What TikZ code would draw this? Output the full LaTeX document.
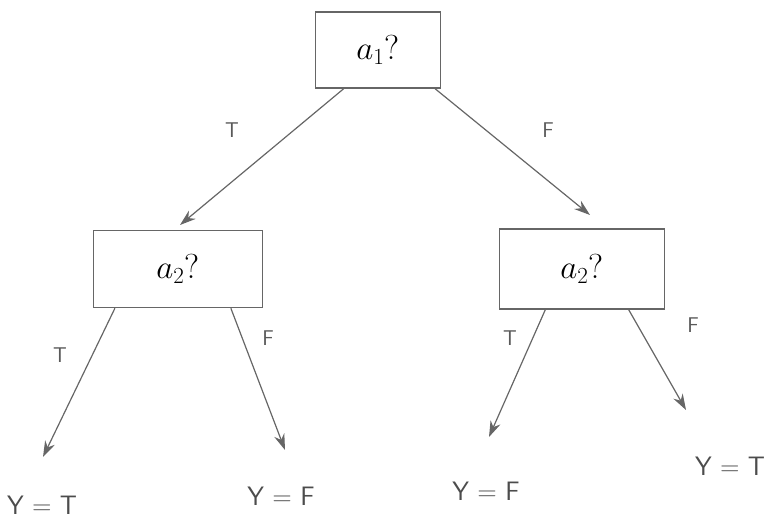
\documentclass[tikz,border=0pt]{standalone}
\usetikzlibrary{arrows.meta,calc}
\begin{document}
\begin{tikzpicture}[x=0.75pt,y=-0.75pt,
  pencil/.style={draw=black!60,line width=0.9pt},
  qbox/.style={pencil,rectangle,inner sep=0pt,font=\fontsize{26}{30}\selectfont},
  edge/.style={pencil,-{Stealth[length=12pt,width=8pt]}},
  elab/.style={text=black!65,font=\sffamily\fontsize{16}{18}\selectfont},
  leaf/.style={text=black!70,inner sep=0pt,font=\sffamily\fontsize{20}{24}\selectfont}]
\useasboundingbox (0,0) rectangle (774,531);
\node[qbox,minimum width=94pt,minimum height=57pt] (A) at (378,50) {$a_1$?};
\node[qbox,minimum width=127pt,minimum height=58pt] (L) at (178,269) {$a_2$?};
\node[qbox,minimum width=124pt,minimum height=60pt] (R) at (582,269) {$a_2$?};
\node[leaf] (LL) at (42,505) {Y = T};
\node[leaf] (LR) at (281,496) {Y = F};
\node[leaf] (RL) at (486,491) {Y = F};
\node[leaf] (RR) at (730,466) {Y = T};
\coordinate (eL) at (180,225);
\coordinate (eR) at (590,215);
\coordinate (eLL) at (43,457);
\coordinate (eLR) at (285,450);
\coordinate (eRL) at (489,437);
\coordinate (eRR) at (686,410);
\draw[edge] ($(A.south west)!0.23!(A.south east)$) -- (eL);
\draw[edge] ($(A.south west)!0.95!(A.south east)$) -- (eR);
\draw[edge] ($(L.south west)!0.13!(L.south east)$) -- (eLL);
\draw[edge] ($(L.south west)!0.81!(L.south east)$) -- (eLR);
\draw[edge] ($(R.south west)!0.28!(R.south east)$) -- (eRL);
\draw[edge] ($(R.south west)!0.78!(R.south east)$) -- (eRR);
\node[elab] (t1) at (232,130) {T};
\node[elab] (f1) at (548,130) {F};
\node[elab] (t2) at (60,355) {T};
\node[elab] (f2) at (268,338) {F};
\node[elab] (t3) at (510,338) {T};
\node[elab] (f3) at (693,325) {F};
\end{tikzpicture}
\end{document}
